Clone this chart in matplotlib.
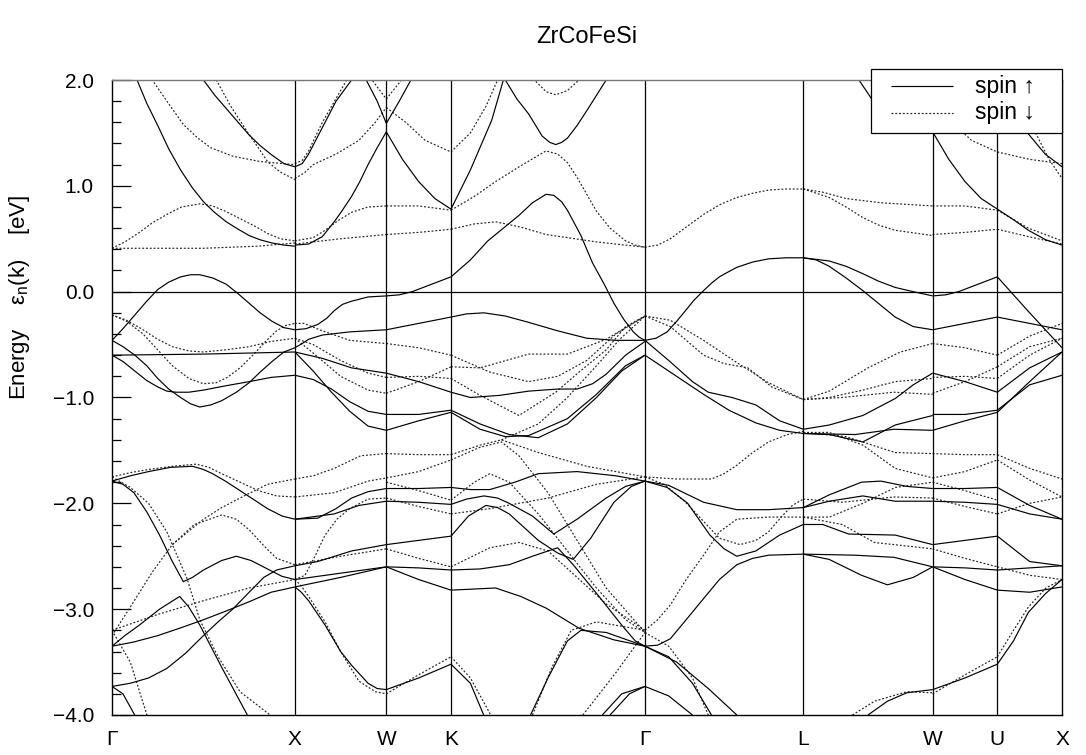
import numpy as np
import matplotlib
matplotlib.use("Agg")
import matplotlib.pyplot as plt
from matplotlib.lines import Line2D
from matplotlib.patches import Rectangle
from matplotlib.ticker import MultipleLocator, FuncFormatter

plt.rcParams['font.family'] = ['Liberation Sans', 'DejaVu Sans']
plt.rcParams['mathtext.fontset'] = 'custom'
plt.rcParams['mathtext.rm'] = 'Liberation Sans'
plt.rcParams['mathtext.it'] = 'Liberation Sans:italic'

# ---------------- data ----------------
title = "ZrCoFeSi"
kpt_labels = ["Γ", "X", "W", "K", "Γ", "L", "W", "U", "X"]
kpt_pos = [0.0, 1.0, 1.5, 1.8536, 2.9142, 3.7802, 4.4873, 4.8409, 5.1945]
legend_labels = ["spin \u2191", "spin \u2193"]

# each band: list of (fraction along segment, energy eV)
GX_up = [
    [(0, 2.8), (0.06, 2.4), (0.125, 2.05), (0.19, 1.78), (0.25, 1.57), (0.31, 1.35), (0.375, 1.15), (0.44, 0.98), (0.5, 0.85),
     (0.56, 0.75), (0.625, 0.66), (0.69, 0.59), (0.75, 0.53), (0.81, 0.49), (0.875, 0.46), (0.94, 0.44), (1, 0.43)],
    [(0.3, 2.6), (0.4, 2.3), (0.5, 2.0), (0.56, 1.86), (0.625, 1.73), (0.69, 1.6), (0.75, 1.48), (0.81, 1.38), (0.875, 1.29), (0.94, 1.21), (1, 1.18)],
    [(0, -0.46), (0.06, -0.35), (0.125, -0.22), (0.19, -0.09), (0.25, 0.02), (0.31, 0.09), (0.375, 0.14), (0.43, 0.16), (0.48, 0.16),
     (0.55, 0.13), (0.625, 0.07), (0.69, -0.02), (0.75, -0.11), (0.81, -0.2), (0.875, -0.28), (0.94, -0.34), (1, -0.36)],
    [(0, -0.46), (0.06, -0.52), (0.125, -0.6), (0.19, -0.7), (0.25, -0.82), (0.31, -0.92), (0.375, -1.0), (0.43, -1.06), (0.48, -1.09),
     (0.54, -1.07), (0.6, -1.03), (0.68, -0.95), (0.75, -0.86), (0.81, -0.76), (0.875, -0.66), (0.94, -0.57), (1, -0.53)],
    [(0, -0.6), (0.06, -0.66), (0.125, -0.75), (0.19, -0.84), (0.25, -0.9), (0.3, -0.94), (0.35, -0.95), (0.42, -0.95), (0.5, -0.93),
     (0.62, -0.89), (0.75, -0.85), (0.87, -0.81), (1, -0.79)],
    [(0, -0.6), (0.5, -0.59), (1, -0.57)],
    [(0, -1.79), (0.1, -1.74), (0.2, -1.7), (0.32, -1.66), (0.44, -1.65), (0.5, -1.68), (0.55, -1.72), (0.62, -1.79), (0.7, -1.88),
     (0.78, -1.97), (0.85, -2.05), (0.93, -2.12), (1, -2.15)],
    [(0, -1.79), (0.06, -1.82), (0.12, -1.9), (0.19, -2.08), (0.26, -2.3), (0.33, -2.55), (0.39, -2.74), (0.44, -2.7), (0.5, -2.63),
     (0.6, -2.54), (0.68, -2.5), (0.76, -2.54), (0.85, -2.62), (0.93, -2.69), (1, -2.72)],
    [(0, -3.35), (0.07, -3.25), (0.15, -3.15), (0.26, -3.0), (0.37, -2.88), (0.42, -2.98), (0.48, -3.15), (0.6, -3.55), (0.74, -4.0), (0.8, -4.2)],
    [(0, -3.35), (0.12, -3.31), (0.25, -3.25), (0.37, -3.18), (0.5, -3.1), (0.62, -3.02), (0.75, -2.93), (0.87, -2.84), (1, -2.79)],
    [(0, -3.73), (0.1, -3.7), (0.2, -3.65), (0.3, -3.56), (0.4, -3.42), (0.5, -3.25), (0.58, -3.12), (0.66, -3.0), (0.75, -2.84),
     (0.83, -2.7), (0.9, -2.63), (1, -2.59)],
    [(0, -3.73), (0.06, -3.8), (0.14, -4.05)],
]
GX_dn = [
    [(0, 0.41), (0.07, 0.47), (0.15, 0.56), (0.22, 0.65), (0.3, 0.73), (0.38, 0.8), (0.48, 0.83), (0.55, 0.81), (0.62, 0.76),
     (0.7, 0.69), (0.78, 0.62), (0.85, 0.55), (0.92, 0.5), (1, 0.48)],
    [(0, 0.41), (0.5, 0.41), (0.8, 0.43), (1, 0.46)],
    [(0.1, 2.3), (0.22, 2.0), (0.3, 1.8), (0.39, 1.58), (0.47, 1.45), (0.54, 1.36), (0.66, 1.28), (0.81, 1.23), (1, 1.2)],
    [(0.5, 2.3), (0.57, 2.0), (0.65, 1.75), (0.74, 1.51), (0.8, 1.36), (0.85, 1.23), (0.92, 1.13), (1, 1.06)],
    [(0, -0.22), (0.08, -0.27), (0.17, -0.36), (0.25, -0.45), (0.33, -0.52), (0.42, -0.56), (0.5, -0.57), (0.62, -0.55),
     (0.75, -0.52), (0.87, -0.47), (1, -0.44)],
    [(0, -0.22), (0.08, -0.28), (0.17, -0.4), (0.25, -0.55), (0.33, -0.7), (0.42, -0.82), (0.5, -0.87), (0.57, -0.86), (0.63, -0.81),
     (0.7, -0.72), (0.77, -0.6), (0.84, -0.47), (0.9, -0.37), (0.95, -0.32), (1, -0.3)],
    [(0, -1.75), (0.1, -1.71), (0.2, -1.68), (0.33, -1.65), (0.46, -1.63), (0.53, -1.66), (0.6, -1.72), (0.7, -1.8), (0.8, -1.88),
     (0.9, -1.93), (1, -1.94)],
    [(0, -1.75), (0.1, -1.85), (0.2, -2.0), (0.3, -2.27), (0.41, -2.71), (0.48, -3.1), (0.58, -3.45), (0.7, -3.78), (0.88, -4.02)],
    [(0, -3.25), (0.1, -2.98), (0.22, -2.65), (0.33, -2.39), (0.45, -2.2), (0.6, -2.11), (0.68, -2.15), (0.75, -2.25), (0.83, -2.4),
     (0.9, -2.52), (1, -2.58)],
    [(0.33, -2.39), (0.5, -2.15), (0.6, -2.04), (0.7, -1.95), (0.85, -1.82), (1, -1.77)],
    [(0, -3.2), (0.25, -3.05), (0.5, -2.92), (0.75, -2.8), (1, -2.72)],
    [(0, -3.2), (0.1, -3.5), (0.2, -4.05)],
]
XW_up = [
    [(0, 1.18), (0.08, 1.21), (0.15, 1.3), (0.3, 1.55), (0.45, 1.8), (0.62, 2.0), (0.75, 2.2)],
    [(0.7, 2.2), (0.78, 2.0), (0.9, 1.8), (1, 1.59)],
    [(0, 0.44), (0.15, 0.45), (0.3, 0.52), (0.43, 0.66), (0.52, 0.77), (0.62, 0.9), (0.71, 1.04), (0.8, 1.2), (0.9, 1.36), (1, 1.51)],
    [(0, -0.36), (0.12, -0.35), (0.25, -0.31), (0.35, -0.25), (0.43, -0.18), (0.52, -0.12), (0.62, -0.09), (0.8, -0.05), (1, -0.04)],
    [(0, -0.53), (0.08, -0.49), (0.15, -0.45), (0.3, -0.41), (0.6, -0.38), (1, -0.36)],
    [(0, -0.57), (0.3, -0.63), (0.62, -0.72), (1, -0.77)],
    [(0, -0.57), (0.2, -0.75), (0.4, -0.95), (0.6, -1.13), (0.8, -1.27), (1, -1.31)],
    [(0, -0.79), (0.2, -0.83), (0.4, -0.92), (0.6, -1.04), (0.8, -1.13), (1, -1.16)],
    [(0, -2.15), (0.25, -2.14), (0.45, -2.05), (0.62, -1.95), (0.8, -1.89), (1, -1.86)],
    [(0, -2.15), (0.43, -2.1), (0.7, -2.02), (1, -1.98)],
    [(0, -2.59), (0.25, -2.55), (0.62, -2.45), (1, -2.39)],
    [(0, -2.72), (0.5, -2.66), (1, -2.6)],
    [(0, -2.79), (0.5, -2.7), (1, -2.6)],
    [(0, -2.79), (0.07, -2.84), (0.15, -2.92), (0.33, -3.15), (0.5, -3.4), (0.62, -3.53), (0.8, -3.7), (0.9, -3.75), (1, -3.76)],
]
XW_dn = [
    [(0, 1.21), (0.08, 1.24), (0.15, 1.33), (0.3, 1.6), (0.6, 2.05)],
    [(0, 1.07), (0.1, 1.12), (0.2, 1.2), (0.45, 1.3), (0.7, 1.43), (0.88, 1.6), (1, 1.74)],
    [(0.8, 2.05), (1, 1.82)],
    [(0, 0.48), (0.2, 0.51), (0.33, 0.58), (0.47, 0.67), (0.62, 0.75), (0.8, 0.8), (1, 0.81)],
    [(0, 0.45), (0.5, 0.5), (1, 0.54)],
    [(0, -0.3), (0.1, -0.3), (0.3, -0.37), (0.6, -0.46), (1, -0.49)],
    [(0, -0.44), (0.2, -0.5), (0.5, -0.65), (0.8, -0.77), (1, -0.81)],
    [(0, -0.44), (0.2, -0.58), (0.5, -0.8), (0.8, -0.93), (1, -0.96)],
    [(0, -1.77), (0.2, -1.74), (0.43, -1.67), (0.72, -1.55), (1, -1.53)],
    [(0, -1.94), (0.43, -1.9), (0.8, -1.79), (1, -1.76)],
    [(0, -2.72), (0.11, -2.68), (0.22, -2.5), (0.33, -2.3), (0.46, -2.15), (0.6, -2.05), (0.8, -1.96), (1, -1.95)],
    [(0, -2.58), (0.5, -2.5), (1, -2.43)],
    [(0, -2.72), (0.07, -2.78), (0.15, -2.88), (0.33, -3.12), (0.5, -3.4), (0.7, -3.68), (0.88, -3.78), (1, -3.8)],
]
WK_up = [
    [(0, 1.51), (0.25, 1.25), (0.5, 1.04), (0.75, 0.88), (1, 0.78)],
    [(0, 1.59), (0.2, 1.8), (0.38, 2.0), (0.5, 2.15)],
    [(0, -0.04), (0.2, -0.03), (0.4, 0.0), (0.7, 0.07), (1, 0.14)],
    [(0, -0.36), (0.5, -0.3), (1, -0.24)],
    [(0, -0.77), (0.5, -0.85), (1, -0.95)],
    [(0, -1.16), (0.5, -1.16), (1, -1.12)],
    [(0, -1.31), (0.5, -1.22), (1, -1.14)],
    [(0, -1.86), (0.5, -1.86), (1, -1.85)],
    [(0, -1.98), (0.5, -1.99), (1, -2.01)],
    [(0, -2.39), (0.5, -2.35), (1, -2.31)],
    [(0, -2.6), (0.5, -2.61), (1, -2.63)],
    [(0, -2.6), (0.5, -2.72), (1, -2.82)],
    [(0, -3.76), (0.5, -3.65), (1, -3.52)],
]
WK_dn = [
    [(0, 1.74), (0.3, 1.6), (0.6, 1.43), (1, 1.32)],
    [(0, 1.82), (0.3, 2.05)],
    [(0, 0.81), (0.5, 0.81), (1, 0.77)],
    [(0, 0.54), (0.5, 0.56), (1, 0.59)],
    [(0, -0.49), (0.5, -0.53), (1, -0.6)],
    [(0, -0.81), (0.5, -0.8), (1, -0.82)],
    [(0, -0.96), (0.5, -0.85), (1, -0.71)],
    [(0, -1.53), (0.5, -1.54), (1, -1.54)],
    [(0, -1.76), (0.5, -1.7), (1, -1.59)],
    [(0, -1.8), (0.5, -1.88), (1, -1.97)],
    [(0, -1.95), (0.5, -2.03), (1, -2.1)],
    [(0, -2.43), (0.5, -2.52), (1, -2.6)],
    [(0, -3.8), (0.5, -3.62), (1, -3.45)],
]
KG_up = [
    [(0, 0.78), (0.1, 1.15), (0.21, 1.62), (0.27, 2.0), (0.3, 2.15)],
    [(0.25, 2.15), (0.28, 2.0), (0.34, 1.82), (0.4, 1.68), (0.47, 1.47), (0.51, 1.41), (0.54, 1.39), (0.57, 1.41), (0.6, 1.45),
     (0.65, 1.57), (0.7, 1.71), (0.8, 2.0), (0.85, 2.15)],
    [(0, 0.14), (0.1, 0.3), (0.19, 0.48), (0.27, 0.6), (0.35, 0.72), (0.42, 0.84), (0.49, 0.92), (0.53, 0.91), (0.57, 0.85),
     (0.6, 0.77), (0.67, 0.53), (0.73, 0.27), (0.79, 0.07), (0.84, -0.11), (0.89, -0.26), (0.94, -0.38), (0.97, -0.43), (1, -0.46)],
    [(0, -0.24), (0.08, -0.21), (0.17, -0.2), (0.28, -0.23), (0.4, -0.29), (0.55, -0.37), (0.7, -0.44), (0.85, -0.46), (1, -0.46)],
    [(0, -0.95), (0.1, -1.0), (0.25, -0.98), (0.4, -0.94), (0.55, -0.92), (0.65, -0.92), (0.73, -0.87), (0.8, -0.78), (0.9, -0.6), (1, -0.47)],
    [(0, -1.12), (0.15, -1.25), (0.3, -1.35), (0.45, -1.38), (0.6, -1.25), (0.75, -1.0), (0.88, -0.75), (1, -0.6)],
    [(0, -1.14), (0.15, -1.3), (0.28, -1.37), (0.4, -1.36), (0.6, -1.2), (0.75, -0.97), (0.9, -0.7), (1, -0.6)],
    [(0, -1.85), (0.1, -1.87), (0.2, -1.87), (0.33, -1.8), (0.45, -1.72), (0.65, -1.7), (0.85, -1.74), (1, -1.79)],
    [(0, -2.01), (0.08, -1.96), (0.17, -1.93), (0.24, -1.95), (0.3, -2.0), (0.42, -2.12), (0.53, -2.29), (0.65, -2.15),
     (0.8, -1.95), (0.9, -1.84), (1, -1.79)],
    [(0, -2.31), (0.09, -2.12), (0.18, -2.02), (0.24, -2.04), (0.3, -2.1), (0.45, -2.35), (0.55, -2.47), (0.63, -2.53),
     (0.72, -2.33), (0.84, -1.99), (0.93, -1.84), (1, -1.79)],
    [(0, -2.63), (0.15, -2.62), (0.3, -2.58), (0.42, -2.5), (0.5, -2.45), (0.55, -2.42), (0.63, -2.58), (0.75, -2.85),
     (0.88, -3.15), (0.95, -3.3), (1, -3.35)],
    [(0, -2.82), (0.23, -2.8), (0.36, -2.88), (0.49, -2.99), (0.66, -3.18), (0.84, -3.29), (1, -3.35)],
    [(0, -3.52), (0.1, -3.7), (0.18, -4.05)],
    [(0.41, -4.0), (0.5, -3.65), (0.6, -3.3), (0.67, -3.2), (0.8, -3.22), (1, -3.35)],
    [(0.78, -4.0), (0.88, -3.8), (1, -3.73)],
    [(0.82, -4.0), (0.92, -3.8), (1, -3.73)],
]
KG_dn = [
    [(0, 1.32), (0.1, 1.5), (0.18, 1.75), (0.24, 2.0), (0.27, 2.15)],
    [(0.4, 2.15), (0.43, 2.0), (0.49, 1.89), (0.54, 1.86), (0.6, 1.9), (0.66, 2.0), (0.7, 2.15)],
    [(0, 0.77), (0.12, 0.9), (0.23, 1.04), (0.36, 1.19), (0.49, 1.33), (0.55, 1.3), (0.6, 1.22), (0.65, 1.08), (0.7, 0.92),
     (0.75, 0.76), (0.82, 0.6), (0.9, 0.48), (0.95, 0.44), (1, 0.42)],
    [(0, 0.59), (0.12, 0.64), (0.23, 0.66), (0.36, 0.61), (0.49, 0.54), (0.75, 0.47), (1, 0.42)],
    [(0, -0.6), (0.2, -0.76), (0.4, -0.85), (0.55, -0.8), (0.7, -0.65), (0.85, -0.4), (1, -0.23)],
    [(0, -0.71), (0.15, -0.72), (0.4, -0.59), (0.6, -0.59), (0.8, -0.45), (1, -0.23)],
    [(0, -0.82), (0.15, -0.98), (0.35, -1.17), (0.54, -0.95), (0.66, -0.76), (0.8, -0.55), (0.9, -0.33), (1, -0.23)],
    [(0.26, -1.4), (0.45, -1.25), (0.6, -1.0), (0.75, -0.7), (0.87, -0.45), (1, -0.23)],
    [(0, -1.54), (0.15, -1.45), (0.26, -1.4), (0.45, -1.52), (0.7, -1.65), (1, -1.75)],
    [(0, -1.59), (0.15, -1.47), (0.26, -1.42), (0.35, -1.55), (0.5, -1.9), (0.65, -2.35), (0.8, -2.8), (1, -3.22)],
    [(0, -1.97), (0.12, -1.8), (0.2, -1.72), (0.3, -1.8), (0.45, -2.1), (0.6, -2.45), (0.75, -2.8), (0.9, -3.1), (1, -3.22)],
    [(0, -2.1), (0.2, -2.05), (0.5, -1.95), (0.75, -1.82), (1, -1.75)],
    [(0, -2.6), (0.2, -2.42), (0.35, -2.37), (0.5, -2.45), (0.65, -2.7), (0.8, -2.95), (1, -3.2)],
    [(0, -3.45), (0.1, -3.65), (0.22, -4.05)],
    [(0.42, -4.0), (0.52, -3.55), (0.62, -3.2), (0.75, -3.12), (1, -3.2)],
    [(0.68, -4.0), (0.85, -3.6), (1, -3.22)],
]
GL_up = [
    [(0, -0.46), (0.07, -0.44), (0.14, -0.38), (0.2, -0.28), (0.25, -0.19), (0.31, -0.08), (0.37, 0.01), (0.42, 0.08),
     (0.47, 0.14), (0.53, 0.19), (0.58, 0.23), (0.68, 0.28), (0.78, 0.31), (0.89, 0.32), (1, 0.32)],
    [(0, -0.46), (0.15, -0.65), (0.3, -0.85), (0.4, -0.95), (0.55, -1.0), (0.7, -1.07), (0.85, -1.22), (1, -1.3)],
    [(0, -0.6), (0.15, -0.75), (0.37, -0.97), (0.53, -1.12), (0.7, -1.24), (0.85, -1.31), (1, -1.34)],
    [(0, -1.79), (0.15, -1.83), (0.37, -1.99), (0.58, -2.06), (0.78, -2.06), (1, -2.04)],
    [(0, -1.79), (0.14, -1.85), (0.27, -2.0), (0.41, -2.3), (0.5, -2.43), (0.58, -2.5), (0.7, -2.45), (0.85, -2.3), (1, -2.2)],
    [(0, -3.35), (0.08, -3.34), (0.16, -3.28), (0.26, -3.1), (0.37, -2.9), (0.47, -2.72), (0.58, -2.58), (0.68, -2.52),
     (0.78, -2.49), (1, -2.48)],
    [(0, -3.35), (0.15, -3.45), (0.3, -3.7), (0.42, -4.0)],
    [(0, -3.35), (0.2, -3.5), (0.4, -3.75), (0.58, -4.0)],
    [(0, -3.73), (0.15, -3.82), (0.3, -4.0)],
]
GL_dn = [
    [(0, 0.42), (0.08, 0.44), (0.16, 0.5), (0.26, 0.61), (0.37, 0.73), (0.47, 0.82), (0.58, 0.89), (0.68, 0.93), (0.78, 0.96),
     (0.89, 0.97), (1, 0.97)],
    [(0, -0.23), (0.16, -0.27), (0.37, -0.46), (0.58, -0.67), (0.78, -0.86), (1, -1.02)],
    [(0, -0.23), (0.16, -0.33), (0.37, -0.6), (0.5, -0.68), (0.65, -0.72), (0.8, -0.9), (1, -1.02)],
    [(0, -1.75), (0.2, -1.77), (0.42, -1.77), (0.5, -1.72), (0.58, -1.64), (0.68, -1.52), (0.78, -1.42), (0.9, -1.35), (1, -1.32)],
    [(0, -1.75), (0.12, -1.82), (0.25, -1.98), (0.37, -2.17), (0.47, -2.33), (0.6, -2.39), (0.7, -2.35), (0.78, -2.27),
     (0.86, -2.13), (0.93, -2.02), (1, -1.96)],
    [(0, -3.2), (0.08, -3.1), (0.16, -2.96), (0.26, -2.72), (0.37, -2.49), (0.47, -2.27), (0.58, -2.15), (0.78, -2.13), (1, -2.13)],
    [(0, -3.22), (0.15, -3.35), (0.3, -3.65), (0.4, -4.0)],
]
LW_up = [
    [(0.4, 2.1), (0.43, 2.0), (0.54, 1.8), (0.8, 1.66), (1, 1.59)],
    [(0, 0.32), (0.2, 0.29), (0.33, 0.24), (0.46, 0.17), (0.58, 0.1), (0.71, 0.04), (0.85, 0.0), (1, -0.04)],
    [(0, 0.32), (0.1, 0.3), (0.2, 0.24), (0.33, 0.13), (0.46, 0.01), (0.58, -0.11), (0.71, -0.24), (0.85, -0.33), (1, -0.36)],
    [(0, -1.3), (0.2, -1.26), (0.46, -1.17), (0.71, -1.01), (0.85, -0.88), (1, -0.77)],
    [(0, -1.34), (0.2, -1.35), (0.46, -1.42), (0.71, -1.26), (1, -1.17)],
    [(0, -1.34), (0.4, -1.35), (0.7, -1.3), (1, -1.31)],
    [(0, -2.04), (0.2, -1.92), (0.45, -1.8), (0.6, -1.79), (0.8, -1.84), (1, -1.86)],
    [(0, -2.04), (0.2, -1.98), (0.46, -1.93), (0.71, -1.98), (1, -1.98)],
    [(0, -2.2), (0.15, -2.2), (0.35, -2.29), (0.71, -2.3), (1, -2.39)],
    [(0, -2.48), (0.4, -2.49), (0.7, -2.51), (1, -2.6)],
    [(0, -2.48), (0.2, -2.53), (0.45, -2.68), (0.65, -2.77), (0.85, -2.7), (1, -2.6)],
    [(0.5, -4.0), (0.65, -3.87), (0.8, -3.79), (1, -3.76)],
]
LW_dn = [
    [(0, 0.97), (0.15, 0.94), (0.33, 0.88), (0.6, 0.84), (1, 0.81)],
    [(0, 0.97), (0.2, 0.89), (0.33, 0.8), (0.46, 0.7), (0.58, 0.63), (0.71, 0.58), (1, 0.53)],
    [(0, -1.02), (0.2, -0.94), (0.5, -0.72), (0.75, -0.57), (1, -0.49)],
    [(0, -1.02), (0.2, -1.0), (0.46, -0.93), (0.71, -0.85), (1, -0.82)],
    [(0, -1.02), (0.3, -1.0), (0.7, -0.95), (1, -0.97)],
    [(0, -1.33), (0.2, -1.33), (0.46, -1.45), (0.71, -1.67), (1, -1.76)],
    [(0, -1.33), (0.33, -1.37), (0.71, -1.52), (1, -1.53)],
    [(0, -1.96), (0.3, -1.99), (0.7, -1.94), (1, -1.95)],
    [(0, -2.13), (0.2, -2.13), (0.46, -2.0), (0.71, -1.85), (1, -1.8)],
    [(0, -2.13), (0.3, -2.2), (0.55, -2.37), (1, -2.43)],
    [(0.38, -4.0), (0.55, -3.87), (0.8, -3.78), (1, -3.79)],
]
WU_up = WK_up   # W-U is equivalent to W-K
WU_dn = WK_dn
UX_up = [
    [(0, 0.78), (0.25, 0.68), (0.48, 0.58), (0.75, 0.49), (1, 0.44)],
    [(0, 2.1), (0.25, 1.8), (0.48, 1.49), (0.74, 1.3), (1, 1.18)],
    [(0, 0.14), (0.5, -0.2), (1, -0.53)],
    [(0, -0.24), (0.5, -0.3), (1, -0.36)],
    [(0, -0.95), (0.5, -0.72), (1, -0.57)],
    [(0, -1.12), (0.5, -0.88), (1, -0.79)],
    [(0, -1.14), (0.5, -0.85), (1, -0.57)],
    [(0, -1.85), (0.5, -2.02), (1, -2.15)],
    [(0, -2.01), (0.5, -2.1), (1, -2.15)],
    [(0, -2.31), (0.5, -2.55), (1, -2.59)],
    [(0, -2.63), (0.5, -2.61), (1, -2.59)],
    [(0, -2.82), (0.5, -2.84), (1, -2.79)],
    [(0, -3.52), (0.25, -3.3), (0.48, -3.03), (0.75, -2.85), (1, -2.72)],
]
UX_dn = [
    [(0, 0.77), (0.48, 0.6), (1, 0.48)],
    [(0, 0.59), (0.48, 0.52), (1, 0.45)],
    [(0, 1.32), (0.5, 1.25), (1, 1.21)],
    [(0.4, 1.8), (0.6, 1.49), (0.8, 1.25), (1, 1.07)],
    [(0, -0.6), (0.5, -0.42), (1, -0.3)],
    [(0, -0.71), (0.5, -0.52), (1, -0.44)],
    [(0, -0.82), (0.5, -0.6), (1, -0.44)],
    [(0, -1.54), (0.5, -1.67), (1, -1.77)],
    [(0, -1.59), (0.5, -1.78), (1, -1.94)],
    [(0, -2.1), (0.5, -2.0), (1, -1.94)],
    [(0, -2.6), (0.5, -2.68), (1, -2.72)],
    [(0, -3.45), (0.25, -3.2), (0.48, -2.98), (0.75, -2.8), (1, -2.72)],
]

segments = [
    (0, 1, GX_up, GX_dn), (1, 2, XW_up, XW_dn), (2, 3, WK_up, WK_dn),
    (3, 4, KG_up, KG_dn), (4, 5, GL_up, GL_dn), (5, 6, LW_up, LW_dn),
    (6, 7, WU_up, WU_dn), (7, 8, UX_up, UX_dn),
]

# ---------------- figure ----------------
W, H = 1086, 755
fig = plt.figure(figsize=(W / 100, H / 100), dpi=100)
ax = fig.add_axes([112 / W, 1 - 715 / H, 950 / W, 635 / H])

up_style = dict(color="black", lw=0.85, ls="-", solid_capstyle="butt", solid_joinstyle="round")
dn_style = dict(color="#222222", lw=0.85, ls=(0, (1.6, 1.6)))

for i0, i1, ups, dns in segments:
    k0, k1 = kpt_pos[i0], kpt_pos[i1]
    for band in dns:
        f = np.array([p[0] for p in band]); e = np.array([p[1] for p in band])
        ax.plot(k0 + f * (k1 - k0), e, **dn_style)
    for band in ups:
        f = np.array([p[0] for p in band]); e = np.array([p[1] for p in band])
        ax.plot(k0 + f * (k1 - k0), e, **up_style)

for k in kpt_pos[1:-1]:
    ax.axvline(k, color="black", lw=0.9)
ax.axhline(0.0, color="black", lw=0.9)

ax.set_xlim(kpt_pos[0], kpt_pos[-1])
ax.set_ylim(-4.0, 2.0)
ax.set_xticks(kpt_pos)
ax.set_xticklabels(kpt_labels, fontsize=15)
ax.tick_params(axis="x", length=0, pad=11)
ax.yaxis.set_major_locator(MultipleLocator(1.0))
ax.yaxis.set_minor_locator(MultipleLocator(0.2))
ax.yaxis.set_major_formatter(FuncFormatter(lambda v, p: f"{v:.1f}".replace("-", "\u2212")))
ax.tick_params(axis="y", which="major", direction="in", length=13.5, width=0.9, labelsize=15, pad=13)
ax.tick_params(axis="y", which="minor", direction="in", length=6.5, width=0.9)
for s in ax.spines.values():
    s.set_linewidth(1.0)
ax.spines["top"].set_color("#777777")

fig.text(587 / W, 1 - 37 / H, title, ha="center", va="center", fontsize=17)
fig.text(20 / W, 1 - 297 / H, r"Energy    $\mathrm{ε}_\mathrm{n}$(k)    [eV]",
         ha="center", va="center", rotation=90, fontsize=16)

# legend box (drawn in figure pixel coordinates)
fig.add_artist(Rectangle((871 / W, 1 - 133 / H), 191 / W, 64 / H, transform=fig.transFigure,
                         facecolor="white", edgecolor="black", lw=0.9, zorder=10))
for row, (lab, sty) in enumerate(zip(legend_labels, [up_style, dn_style])):
    yy = 1 - (86 + 27 * row) / H
    fig.add_artist(Line2D([891 / W, 953 / W], [yy, yy], transform=fig.transFigure, zorder=11, **sty))
    fig.text(975 / W, yy, lab, ha="left", va="center", fontsize=16.5, zorder=11)

fig.savefig("out.png", dpi=100)
